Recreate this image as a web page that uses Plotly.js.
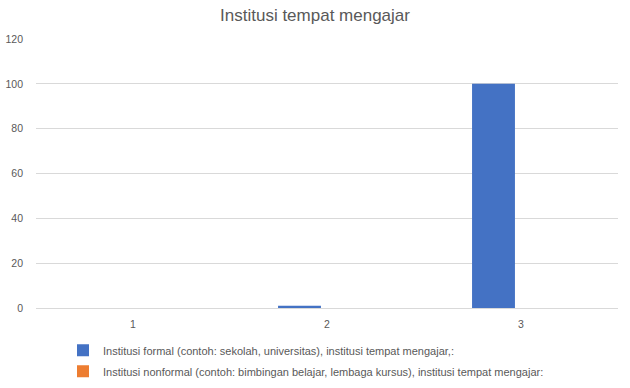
<!DOCTYPE html>
<html>
<head>
<meta charset="utf-8">
<script src="https://cdn.plot.ly/plotly-3.0.1.min.js"></script>
<style>html,body{margin:0;padding:0;background:#fff;}#chart{width:630px;height:388px;}</style>
</head>
<body>
<div id="chart"></div>
<script>
var categories = ['1', '2', '3'];
var seriesNames = [
  'Institusi formal (contoh: sekolah, universitas), institusi tempat mengajar,:',
  'Institusi nonformal (contoh: bimbingan belajar, lembaga kursus), institusi tempat mengajar:'
];
var formalValues = [0, 1, 100];
var nonformalValues = [0, 0, 0];
var yTicks = [0, 20, 40, 60, 80, 100, 120];

var font = 'Liberation Sans, Arial, sans-serif';
var traces = [
  {type: 'bar', x: categories, y: formalValues, name: seriesNames[0], marker: {color: '#4472C4'}, legendgroup: 'a'},
  {type: 'bar', x: categories, y: nonformalValues, name: seriesNames[1], marker: {color: '#ED7D31'}, legendgroup: 'b'}
];
var layout = {
  width: 630, height: 388,
  margin: {l: 36, r: 12, t: 39, b: 80, autoexpand: false},
  paper_bgcolor: '#fff', plot_bgcolor: '#fff',
  font: {family: font, color: '#595959', size: 10},
  title: {text: 'Institusi tempat mengajar', font: {family: font, size: 17, color: '#595959'}, x: 0.5, xanchor: 'center', y: 0.96, yanchor: 'middle', yref: 'container'},
  barmode: 'group', bargap: 0.433, bargroupgap: 0.22,
  xaxis: {type: 'category', showgrid: false, showline: true, linecolor: '#D9D9D9', ticks: '', tickfont: {size: 10.5, color: '#595959'}, zeroline: false, ticklabelstandoff: 6},
  yaxis: {range: [0, 120], tickvals: yTicks, showgrid: true, gridcolor: '#D9D9D9', zeroline: false, showline: false, ticks: '', tickfont: {size: 10.5, color: '#595959'}, ticklabelstandoff: 12},
  showlegend: true,
  legend: {orientation: 'v', xref: 'container', yref: 'container', x: 0.1, xanchor: 'left', y: 0.07, yanchor: 'middle', traceorder: 'grouped', tracegroupgap: 2, font: {size: 11, color: '#595959', family: font}, itemwidth: 30}
};
Plotly.newPlot('chart', traces, layout, {displayModeBar: false, staticPlot: true});
</script>
</body>
</html>
